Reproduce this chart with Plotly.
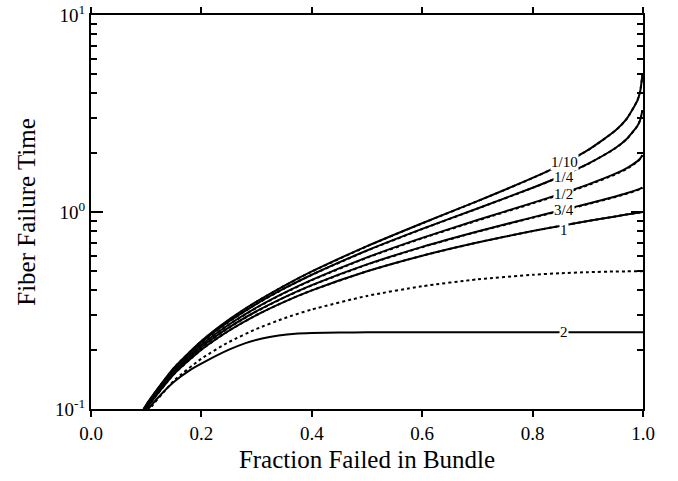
import numpy as np
import plotly.graph_objects as go

# ---------------- data ----------------
x_frac = [0.08, 0.10, 0.15, 0.20, 0.25, 0.30, 0.35, 0.40, 0.50, 0.60,
          0.70, 0.80, 0.85, 0.90, 0.95, 0.97, 0.99, 0.995, 0.999]

# theory (dotted) curves
theory_r010 = [0.0830, 0.1048, 0.1612, 0.2207, 0.2836, 0.3504, 0.4216, 0.4980, 0.6697, 0.8756,
               1.1343, 1.4866, 1.7280, 2.0567, 2.5887, 2.9578, 3.6904, 4.1130, 4.9881]
theory_r025 = [0.0825, 0.1040, 0.1593, 0.2170, 0.2776, 0.3412, 0.4084, 0.4796, 0.6364, 0.8189,
               1.0397, 1.3250, 1.5107, 1.7506, 2.1085, 2.3353, 2.7351, 2.9363, 3.2887]
theory_r050 = [0.0817, 0.1026, 0.1561, 0.2111, 0.2679, 0.3267, 0.3875, 0.4508, 0.5858, 0.7351,
               0.9046, 1.1056, 1.2254, 1.3675, 1.5528, 1.6536, 1.8000, 1.8586, 1.9368]
theory_r075 = [0.0808, 0.1013, 0.1530, 0.2055, 0.2588, 0.3130, 0.3681, 0.4244, 0.5405, 0.6627,
               0.7928, 0.9346, 1.0120, 1.0962, 1.1924, 1.2372, 1.2912, 1.3083, 1.3258]
theory_r100 = [0.0800, 0.1000, 0.1500, 0.2000, 0.2500, 0.3000, 0.3500, 0.4000, 0.5000, 0.6000,
               0.7000, 0.8000, 0.8500, 0.9000, 0.9500, 0.9700, 0.9900, 0.9950, 0.9990]
theory_r200 = [0.0768, 0.0950, 0.1388, 0.1800, 0.2188, 0.2550, 0.2888, 0.3200, 0.3750, 0.4200,
               0.4550, 0.4800, 0.4888, 0.4950, 0.4988, 0.4996, 0.4999, 0.5000, 0.5000]

# simulation (solid) curves
sim_r010 = [0.0832, 0.1050, 0.1616, 0.2212, 0.2842, 0.3510, 0.4222, 0.4990, 0.6710, 0.8770,
            1.1360, 1.4890, 1.7300, 2.0600, 2.5900, 2.9600, 3.6900, 4.1100, 4.9800]
sim_r025 = [0.0827, 0.1042, 0.1596, 0.2174, 0.2781, 0.3418, 0.4090, 0.4804, 0.6375, 0.8205,
            1.0420, 1.3280, 1.5150, 1.7550, 2.1130, 2.3400, 2.7400, 2.9400, 3.2900]
sim_r050 = [0.0819, 0.1028, 0.1564, 0.2115, 0.2685, 0.3275, 0.3885, 0.4520, 0.5880, 0.7390,
            0.9100, 1.1130, 1.2340, 1.3780, 1.5650, 1.6660, 1.8120, 1.8700, 1.9450]
sim_r075 = [0.0809, 0.1015, 0.1533, 0.2060, 0.2594, 0.3138, 0.3690, 0.4255, 0.5420, 0.6650,
            0.7960, 0.9390, 1.0170, 1.1020, 1.1990, 1.2440, 1.2980, 1.3150, 1.3300]
sim_r100 = [0.0800, 0.1000, 0.1500, 0.2000, 0.2500, 0.3000, 0.3500, 0.4000, 0.5000, 0.6000,
            0.7000, 0.8000, 0.8500, 0.9000, 0.9500, 0.9700, 0.9900, 0.9950, 0.9990]

x_sim_r200 = [0.08, 0.09, 0.10, 0.12, 0.15, 0.18, 0.21, 0.25, 0.28, 0.31, 0.34, 0.37,
              0.40, 0.45, 0.50, 0.60, 0.70, 0.80, 0.90, 1.00]
sim_r200 = [0.079, 0.088, 0.097, 0.113, 0.137, 0.158, 0.176, 0.200, 0.216, 0.228, 0.236, 0.241,
            0.243, 0.2445, 0.245, 0.245, 0.245, 0.245, 0.245, 0.245]

curve_labels = ["1/10", "1/4", "1/2", "3/4", "1", "2"]
label_x = [0.858, 0.856, 0.856, 0.856, 0.857, 0.857]
label_y = [1.80, 1.51, 1.24, 1.02, 0.815, 0.245]

y_major = [0.1, 1, 10]
y_major_text = ["10<sup>-1</sup>", "10<sup>0</sup>", "10<sup>1</sup>"]
y_minor = [0.2, 0.3, 0.4, 0.5, 0.6, 0.7, 0.8, 0.9, 2, 3, 4, 5, 6, 7, 8, 9]

# ---------------- figure ----------------
SERIF = "Liberation Serif, Times New Roman, serif"
fig = go.Figure()

theory_sets = [theory_r010, theory_r025, theory_r050, theory_r075, theory_r100, theory_r200]
for ys in theory_sets:
    fig.add_trace(go.Scatter(x=x_frac, y=ys, mode="lines",
                             line=dict(color="black", width=2, dash="dot",
                                       shape="spline", smoothing=0.6),
                             showlegend=False, hoverinfo="skip"))

sim_sets = [(x_frac, sim_r010), (x_frac, sim_r025), (x_frac, sim_r050),
            (x_frac, sim_r075), (x_frac, sim_r100), (x_sim_r200, sim_r200)]
for xs, ys in sim_sets:
    fig.add_trace(go.Scatter(x=xs, y=ys, mode="lines",
                             line=dict(color="black", width=2,
                                       shape="spline", smoothing=0.6),
                             showlegend=False, hoverinfo="skip"))

# invisible trace so the minor-tick overlay y axis is drawn
fig.add_trace(go.Scatter(x=[0.5], y=[1], xaxis="x2", yaxis="y2", mode="markers",
                         marker=dict(opacity=0), showlegend=False, hoverinfo="skip"))

for lab, lx, lyv in zip(curve_labels, label_x, label_y):
    fig.add_annotation(x=lx, y=float(np.log10(lyv)), text=lab, showarrow=False,
                       font=dict(family=SERIF, size=15, color="black"),
                       bgcolor="white", borderpad=0)

line_common = dict(showline=True, linewidth=2, linecolor="black",
                   showgrid=False, zeroline=False)
tick_common = dict(tickwidth=2, tickcolor="#000000")

fig.update_layout(
    template="none",
    width=678, height=481,
    margin=dict(l=91, r=35, t=15, b=72),
    paper_bgcolor="white", plot_bgcolor="white",
    showlegend=False,
    xaxis=dict(range=[0, 1], tickmode="linear", tick0=0, dtick=0.2, tickformat=".1f",
               ticks="outside", ticklen=6, mirror="allticks",
               tickfont=dict(family=SERIF, size=19, color="black"),
               title=dict(text="Fraction Failed in Bundle", standoff=8,
                          font=dict(family=SERIF, size=25, color="black")),
               **line_common, **tick_common),
    yaxis=dict(type="log", range=[-1, 1], tickmode="array", tickvals=y_major,
               ticktext=y_major_text, ticks="inside", ticklen=12, mirror="allticks",
               tickfont=dict(family=SERIF, size=19, color="black"),
               title=dict(text="Fiber Failure Time", standoff=12,
                          font=dict(family=SERIF, size=25, color="black")),
               **line_common, **tick_common),
    xaxis2=dict(overlaying="x", anchor="y2", range=[0, 1], showticklabels=False,
                ticks="", showline=False, showgrid=False, zeroline=False),
    yaxis2=dict(overlaying="y", anchor="x2", side="left", type="log", range=[-1, 1],
                tickmode="array", tickvals=y_minor, ticks="inside", ticklen=6,
                mirror="allticks", showticklabels=False, **line_common, **tick_common),
)

fig.write_html("out.html")
